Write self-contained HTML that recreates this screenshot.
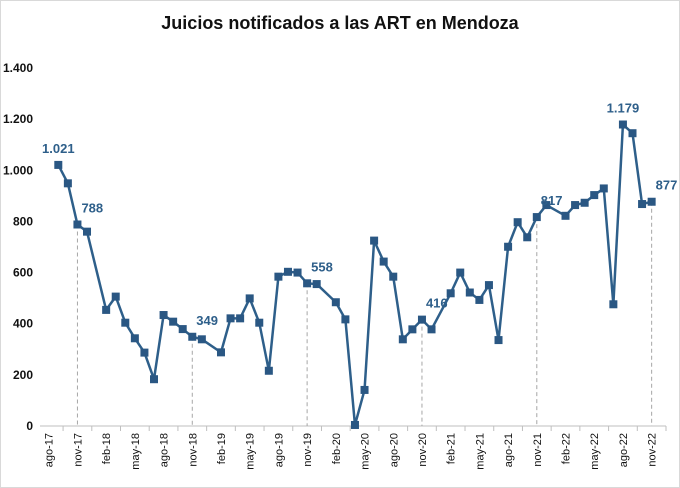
<!DOCTYPE html>
<html><head><meta charset="utf-8"><style>
body{margin:0;background:#fff;}
svg{display:block;font-family:"Liberation Sans",sans-serif;}
</style></head><body>
<svg id="chart" width="680" height="488" viewBox="0 0 680 488">
<rect x="0.5" y="0.5" width="679" height="487" fill="#fff" stroke="#d9d9d9"/>
<text x="340" y="29" text-anchor="middle" font-size="18" font-weight="bold" fill="#111">Juicios notificados a las ART en Mendoza</text>
<g id="axes"></g>
<g id="guides"></g>
<g id="series"></g>
<g id="labels"></g>
</svg>
<script>
const yTicks = [0, 200, 400, 600, 800, 1000, 1200, 1400];
const yTickLabels = ["0", "200", "400", "600", "800", "1.000", "1.200", "1.400"];
const xTickLabels = ["ago-17","nov-17","feb-18","may-18","ago-18","nov-18","feb-19","may-19","ago-19","nov-19","feb-20","may-20","ago-20","nov-20","feb-21","may-21","ago-21","nov-21","feb-22","may-22","ago-22","nov-22"];
const values = [1021,949,788,760,null,454,506,404,343,287,183,434,408,379,349,339,null,288,421,421,499,404,216,584,603,600,558,555,null,484,417,4,141,725,643,584,339,378,416,378,null,519,600,522,493,551,336,701,797,738,817,864,null,822,864,873,903,929,476,1179,1145,868,877];
const highlighted = [2, 14, 26, 38, 50, 62];
const highlightLabels = ["788", "349", "558", "416", "817", "877"];
const peakIndex = [0, 59];
const peakLabels = ["1.021", "1.179"];

const NS = "http://www.w3.org/2000/svg";
const x0 = 58.3, dx = 9.57, y0 = 426, ky = 358 / 1400;
function xPos(i){ return x0 + dx * i; }
function yPos(v){ return y0 - v * ky; }
function mk(tag, attrs, parent){ const e = document.createElementNS(NS, tag); for (const k in attrs) e.setAttribute(k, attrs[k]); parent.appendChild(e); return e; }

const axes = document.getElementById('axes');
yTicks.forEach((t, i) => {
  const tx = mk('text', {x: 33, y: yPos(t) + 4, 'text-anchor': 'end', 'font-size': 12, 'font-weight': 'bold', fill: '#111'}, axes);
  tx.textContent = yTickLabels[i];
  
  
});
const axisLine = mk('line', {x1: 40, y1: y0, x2: 666, y2: y0, stroke: '#bfbfbf', 'stroke-width': 1}, axes);


xTickLabels.forEach((lab, k) => {
  const cx = xPos(3 * k - 1);
  const tk = mk('line', {x1: cx + dx * 1.5, y1: y0, x2: cx + dx * 1.5, y2: y0 + 5, stroke: '#bfbfbf'}, axes);
  
  
  const tx = mk('text', {x: 0, y: 0, 'text-anchor': 'end', 'font-size': 11, fill: '#111', transform: `translate(${cx + 4},${y0 + 7}) rotate(-90)`}, axes);
  tx.textContent = lab;
  
  
});

const guides = document.getElementById('guides');
highlighted.forEach(i => {
  const l = mk('line', {x1: xPos(i), y1: yPos(values[i]), x2: xPos(i), y2: y0, stroke: '#a6a6a6', 'stroke-width': 1, 'stroke-dasharray': '4,3'}, guides);
  
  
});

const series = document.getElementById('series');
const pts = [];
values.forEach((v, i) => { if (v !== null) pts.push([xPos(i), yPos(v)]); });
const path = mk('polyline', {points: pts.map(p => p.join(',')).join(' '), fill: 'none', stroke: '#2e5f8a', 'stroke-width': 2.5, 'stroke-linejoin': 'round'}, series);


pts.forEach(p => {
  const r = mk('rect', {x: p[0] - 4, y: p[1] - 4, width: 8, height: 8, fill: '#2a5783'}, series);
  
  
});

const labels = document.getElementById('labels');
highlighted.forEach((i, j) => {
  const t = mk('text', {x: xPos(i) + 4, y: yPos(values[i]) - 12, 'font-size': 13, 'font-weight': 'bold', fill: '#2e5f8a'}, labels);
  t.textContent = highlightLabels[j];
  
  
});
peakIndex.forEach((i, j) => {
  const t = mk('text', {x: xPos(i), y: yPos(values[i]) - 12, 'text-anchor': 'middle', 'font-size': 13, 'font-weight': 'bold', fill: '#2e5f8a'}, labels);
  t.textContent = peakLabels[j];
  
  
});
</script>
</body></html>
